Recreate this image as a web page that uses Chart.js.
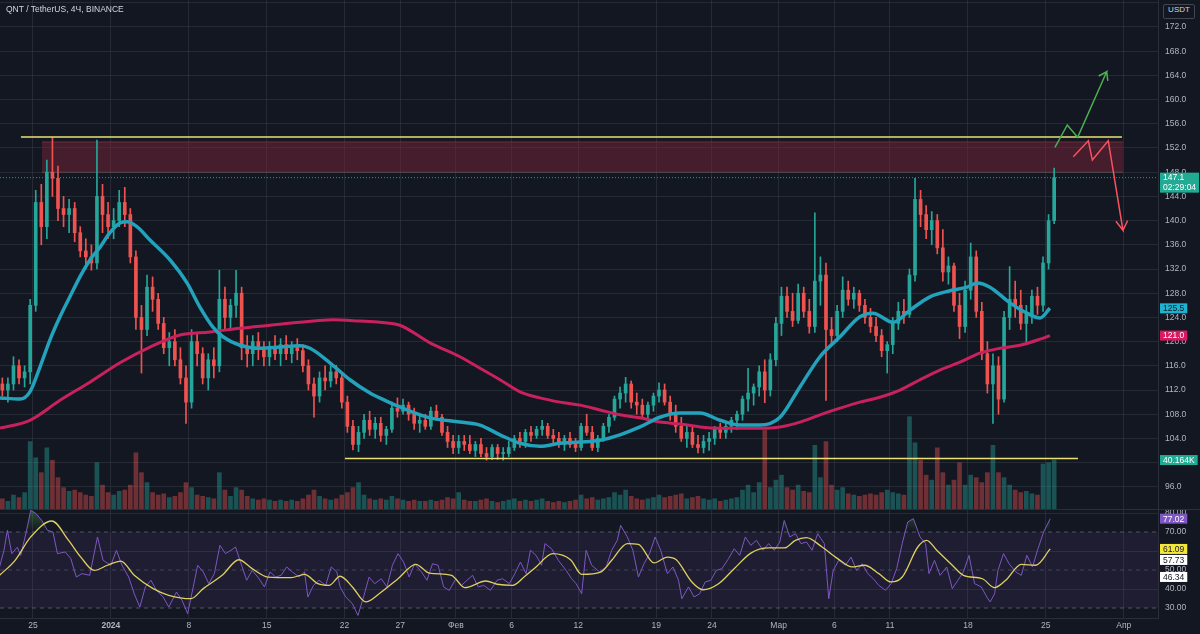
<!DOCTYPE html>
<html>
<head>
<meta charset="utf-8">
<title>QNT / TetherUS, 4Ч, BINANCE</title>
<script src="https://cdn.jsdelivr.net/npm/chart.js@4.4.1/dist/chart.umd.min.js"></script>
<style>
  html, body { margin: 0; padding: 0; background: #131722; }
  #wrap { position: relative; width: 1200px; height: 634px; overflow: hidden; background: #131722; }
  #priceCanvas { position: absolute; left: 0; top: 0; }
  #rsiCanvas { position: absolute; left: 0; top: 510px; }
  #paneSplit { position: absolute; left: 0; top: 509px; width: 1200px; height: 1px; background: #2a2e39; }
  #symbolTitle { position: absolute; left: 6px; top: 4px; color: #d1d4dc; font: 8.5px "Liberation Sans", Arial, sans-serif; }
  #unitBox { position: absolute; left: 1163px; top: 4px; width: 30px; height: 13px; line-height: 13px; border: 1px solid #434651; border-radius: 2px;
             color: #d1d4dc; background: #131722; text-align: center; font: 8px "Liberation Sans", Arial, sans-serif; }
</style>
</head>
<body>
<div id="wrap">
  <canvas id="priceCanvas" width="1200" height="510"></canvas>
  <canvas id="rsiCanvas" width="1200" height="124"></canvas>
  <div id="paneSplit"></div>
  <div id="symbolTitle">QNT / TetherUS, 4Ч, BINANCE</div>
  <div id="unitBox">USDT</div>
</div>
<script>
// x is counted in days, day 0 = 25 Dec 2023; candles resampled to 12h
const firstCandleDay = -3;
const candleStep = 0.5;

const openPrices = [
  113,112,113,116,114,115,126,143,139,148,
  147,142,141,142,138,135,134,133,144,141,
  139,140,143,141,134,124,122,129,127,123,
  119,120,117,114,110,120,118,114,117,116,
  127,124,126,128,119,118,120,119,117.5,119,
  118,119.5,118,119,118.5,116,113,111,114,113.5,
  115,114,110,106,103,105,107,105.5,106.5,104.5,
  105.5,109,108.5,109.5,108,106.5,107,106,108.5,107.5,
  105,103.5,102.5,103.5,103,102,103,101.5,101,102.5,
  101.5,101.5,102.5,104,103.5,105,104.5,105.5,106,104.5,
  104,103,104,103,102.5,106,105,102.5,104,106,
  107.5,110.5,111.5,113,110,109.5,108,109.5,111,112,
  110,108,106,104,105,103,102.5,103.5,104,105.5,
  105,106,107,108,110.5,111.5,112.5,115,112,117,
  123,127.5,125,123.5,128,125,122.5,130,131,122,
  121,125,128.5,127,128,126,124,122.5,121,118.5,
  119.5,123,125,124.5,131,143.5,141,138.5,140,135.5,
  131.5,132.5,126,122.5,128.5,134,125,118,113,116,
  110.5,124,127,126,123,124.5,127.5,126,133,140
];
const highPrices = [
  114,114,117.5,117,116,127,145,146,150,153.7,
  149,144,143.5,143,139,137,136,153.3,146,143,
  142,145,145.5,142,135,126,131,130.7,128,124,
  121.5,122,119,116,122,121.5,119,118,119,131.8,
  129,127,131.8,129,121,121,121.5,120,120,121,
  120.5,121,120,120.5,119.5,117,114,115,116,116,
  116.1,114.5,111,107,106,108,108.5,107.5,107.5,106,
  110,110.7,110.5,110,109,108,108,109.2,109.5,108,
  106,104.5,104.5,104.5,104.5,103.5,104,102.5,103,103,
  102.5,103.5,104.5,105,105.5,106,106,107,106.5,105.5,
  105,104.5,105,104,106.5,108,106,104.5,106.5,108,
  111,112.5,114.1,113.5,111.5,110.5,110,111.5,113.2,113,
  111,109.5,107.5,106,106,104.5,104.5,105,106,106.5,
  106.5,107.5,108.5,111,115.6,113,116,117,118,124,
  129,129,128,129.5,129,127,141.3,134,133,124,
  126,130.7,130,129,128.5,127,125.5,124,122,120,
  124,126.5,127,132,147,145,142.5,141.5,141,138.5,
  134,133,128,130,136.3,135,126.5,120,118,117.5,
  125,132.4,130,128.5,126,128.5,129,134,141,148.7
];
const lowPrices = [
  111,110,112,113,112.5,113,125,136,137,144,
  140,139,138,136.5,134,132,131.8,132,138,137,
  137,139,139,133,122,114.8,121,125,122,118,
  116,116,113,106.5,109,116,113,112,114,115,
  122,122,124,117,115.8,116,117,116,116,117,
  116,117,116.5,117,115,112,107.5,110,112,112.5,
  113,109,105,102.1,101.8,104,104.5,104,103.5,103,
  105,107.5,108,107,105.5,105,105.5,105.5,107,104.5,
  102.5,101.5,101.5,102,101.5,101,101,100.4,100.5,100.5,
  100.4,101,102,102.5,102.5,103.5,104,104.5,104,103,
  102.5,102,102.5,101.8,102,104.5,102,101.8,103.5,105,
  107,109,110,109,108,107.5,107,108.5,110,109.5,
  107,105,103.5,102.5,102.5,101.6,101.6,102,103,104,
  104,105,105.5,107,108.5,109.5,111,109.9,111,116,
  121,124,122.5,123,124,121.4,121.5,126,110.3,119.6,
  120,124,126,125.5,125,123,121.5,120,117.5,114.8,
  118,122,123,124,130,139,137,136,134.5,130,
  129.5,125,120.5,121.5,127,124,117,111.5,106.5,108,
  110,122,124,122,120,123,124.5,125,132,139.5
];
const closePrices = [
  112,113,116,114,115,126,143,139,148,147,
  142,141,142,138,135,134,133,144,141,139,
  140,143,141,134,124,122,129,127,123,119,
  120,117,114,110,120,118,114,117,116,127,
  124,126,128,119,118,120,119,117.5,119,118,
  119.5,118,119,118.5,116,113,111,114,113.5,115,
  114,110,106,103,105,107,105.5,106.5,104.5,105.5,
  109,108.5,109.5,108,106.5,107,106,108.5,107.5,105,
  103.5,102.5,103.5,103,102,103,101.5,101,102.5,101.5,
  101.5,102.5,104,103.5,105,104.5,105.5,106,104.5,104,
  103,104,103,102.5,106,105,102.5,104,106,107.5,
  110.5,111.5,113,110,109.5,108,109.5,111,112,110,
  108,106,104,105,103,102.5,103.5,104,105.5,105,
  106,107,108,110.5,111.5,112.5,115,112,117,123,
  127.5,125,123.5,128,125,122.5,130,131,122,121,
  125,128.5,127,128,126,124,122.5,121,118.5,119.5,
  123,125,124.5,131,143.5,141,138.5,140,135.5,131.5,
  132.5,126,122.5,128.5,134,125,118,113,116,110.5,
  124,127,126,123,124.5,127.5,126,133,140,147.1
];
// volume in thousands of QNT
const volumeK = [
  9,7,12,10,14,55,42,30,50,40,
  26,18,15,16,14,12,11,38,20,14,
  12,15,16,20,46,30,22,14,12,13,
  10,11,14,22,18,12,11,10,9,30,
  16,11,18,16,11,9,8,9,8,7,
  8,7,8,7,9,12,16,11,9,8,
  9,12,14,18,22,12,9,8,9,8,
  11,9,8,7,8,7,7,8,7,8,
  10,9,14,8,7,7,8,9,7,6,
  7,8,9,7,8,7,8,9,7,6,
  7,6,7,8,12,9,10,8,9,10,
  14,12,16,11,9,8,9,10,12,10,
  11,12,13,9,10,11,9,8,9,7,
  8,9,10,16,20,14,22,64,18,24,
  28,18,16,20,15,14,52,26,55,20,
  16,18,13,12,11,12,13,12,14,16,
  14,13,12,75,54,40,28,24,50,30,
  20,24,38,20,28,26,22,30,52,30,
  26,20,16,14,15,13,12,37,38,40.164
];

// moving averages
const maFastDays = [-2.96,-1.17,-0.27,0.63,1.53,2.43,3.32,4.22,5.12,6.02,
  6.92,7.82,8.45,9.34,10.51,12.31,13.84,15.0,16.17,17.07,
  18.6,20.4,22.19,23.99,24.89,26.68,28.48,30.28,31.63,32.97,
  35.67,38.36,40.16,41.96,43.76,45.55,47.35,49.15,50.94,52.74,
  54.54,56.33,58.13,59.93,61.73,63.52,65.32,67.12,68.91,70.71,
  72.51,74.3,75.47,77.27,78.8,80.59,82.39,83.92,84.82,85.98,
  87.78,89.31,90.48,91.37];
const maFastValues = [110.7,110.5,111.7,115.8,120.3,124.1,127.4,130.7,133.5,135.6,
  138,139.6,139.8,139,136.8,133.5,129.7,125.7,122.4,120.8,
  119.4,118.9,119.1,119.3,118.9,116.5,113.7,111.5,110.3,109.2,
  107.4,106.7,106.2,104.6,103.2,102.7,103.2,103.4,103.7,104.6,
  105.9,107.5,108.2,108.2,107,106.2,106.2,107.5,112.5,117.5,
  120.8,124.1,124.7,123.2,125.2,127.4,128.4,129,129.7,129,
  126.4,124.7,123.9,125.5];
const maSlowDays = [-2.96,-0.27,2.43,5.12,7.82,10.51,13.21,15.9,18.6,21.29,
  23.99,26.95,29.38,31.18,32.97,35.67,38.36,40.16,41.96,43.76,
  45.55,47.35,49.15,50.94,52.74,54.54,56.33,58.13,59.93,61.73,
  63.52,65.32,67.12,68.91,70.71,72.51,74.3,76.1,77.9,79.69,
  81.49,83.29,85.08,86.88,88.68,90.48,91.37];
const maSlowValues = [105.7,107,110.3,113.3,116.5,119.1,121.1,121.6,122.2,122.7,
  123.2,123.6,123.4,123.2,122.7,119.8,117.5,115.6,113.7,111.7,
  110.7,110,109.5,108.7,107.9,107.4,106.7,106.4,105.9,105.7,
  105.7,105.7,105.9,106.7,107.9,109,110,110.8,112,113.7,
  115.3,116.6,118.1,118.9,119.4,120.4,121.0];

// RSI and its moving average
const rsiDays = [
  -3.0,-2.6,-2.3,-1.9,-1.4,-1.1,-0.6,-0.2,0.3,0.8,
  1.3,1.8,2.2,2.9,3.4,3.9,4.4,5.1,5.8,6.3,
  7.0,7.5,8.0,8.6,9.1,9.6,10.1,10.6,11.1,11.7,
  12.2,12.9,13.4,13.9,14.4,14.8,15.3,15.8,16.3,16.8,
  17.3,17.8,18.2,18.7,19.2,19.7,20.2,20.8,21.3,21.8,
  22.3,22.8,23.3,23.9,24.4,24.7,25.2,25.7,26.3,26.8,
  27.3,27.6,28.1,28.7,29.2,29.7,30.2,30.7,31.3,31.8,
  32.3,32.8,33.3,33.8,34.3,34.9,35.4,35.9,36.4,36.9,
  37.4,38.0,38.5,39.0,39.5,40.0,40.5,41.1,41.7,42.2,
  42.8,43.3,43.8,44.3,44.7,45.2,45.7,46.0,46.6,47.2,
  47.9,48.4,48.8,49.3,49.7,50.2,50.9,51.5,52.0,52.5,
  52.8,53.4,53.9,54.4,54.9,55.4,55.9,56.4,57.0,57.5,
  58.0,58.3,58.9,59.4,59.9,60.4,60.9,61.4,61.9,62.5,
  63.0,63.5,64.0,64.5,65.0,65.6,66.1,66.6,67.1,67.5,
  68.0,68.5,69.0,69.5,70.0,70.5,71.1,71.5,71.9,72.4,
  73.0,73.5,74.0,74.5,75.0,75.5,76.0,76.6,77.1,77.6,
  78.1,78.6,79.1,79.7,80.2,80.5,81.0,81.5,82.1,82.6,
  83.1,83.6,84.1,84.6,85.2,85.7,86.0,86.4,86.7,87.2,
  87.7,88.3,88.8,89.3,89.8,90.3,90.8,91.4
];
const rsiValues = [
  51.6,60.4,70.9,58.6,62,57.7,70,81.4,79.6,76,
  70.9,70,58.6,59.5,56,46.3,48.1,47.2,67.4,55.1,
  52.5,60.4,52.5,46.3,37.5,30.5,41.1,44.6,39.3,35.8,
  30.5,38.4,34,27,41.1,52.5,49,42.8,48.1,63,
  58.6,60.4,62.1,53.3,44.6,49.8,46.3,41.1,49,46.3,
  47.2,51.6,49,46.3,49,35.8,41.9,44.6,41.9,51.6,
  49,41.1,35.8,32.3,26.1,35.8,46.3,42.8,45.4,41.1,
  52.5,58.6,54.2,46.3,53.3,49,44.6,53.3,52.5,41.1,
  39.3,45.4,41.9,44.6,47.2,41.1,41.9,39.3,44.6,45.4,
  42.8,48.1,54.2,48.1,60.4,57.7,52.5,63.9,61.2,55.1,
  49.8,45.4,42.8,37.5,60.4,52.5,49,51.6,60.4,65.6,
  73.5,67.4,60.4,46.3,53.3,58.6,67.4,60.4,48.1,51.6,
  44.6,34.9,41.1,35.8,37.5,43.7,44.6,49.8,50.7,56,
  61.2,57.7,67.4,63,65.6,60.4,63.9,60.4,64.7,76.1,
  67.4,69.1,63.9,64.7,60.4,69.1,63.9,34.9,49.8,55.1,
  52.5,56.8,49.8,53.3,48.1,45.4,41.9,39.3,42.8,50.7,
  63.9,75.3,77,67.4,63.9,48.1,55.1,47.2,51.6,40.2,
  44.6,49,57.7,42.8,41.1,35.8,33.2,37.5,49.8,58.6,
  53.3,49,47.2,57.7,51.6,61.2,70,77.02
];
const rsiMaDays = [
  -3.0,-1.6,-0.2,1.7,3.2,4.3,5.5,6.7,7.9,9.1,
  10.8,12.2,14.2,15.3,17.0,18.5,19.7,21.1,23.2,24.4,
  25.6,26.6,27.6,28.7,29.9,31.1,32.8,34.4,35.6,37.6,
  38.8,40.7,41.7,43.1,44.2,45.2,46.7,48.3,49.3,51.0,
  52.0,53.4,54.4,55.8,57.0,57.8,59.2,60.2,61.6,63.0,
  64.5,66.1,67.5,68.5,69.5,70.9,72.3,73.6,74.7,76.0,
  77.1,78.1,79.5,80.3,81.2,82.6,83.6,85.3,86.4,87.4,
  88.8,90.1,91.4
];
const rsiMaValues = [
  47.2,55.1,67.4,75.8,65.6,56.8,49.8,52.5,54.7,47.2,
  40.2,36.7,34.9,40.2,47.2,55.4,50.7,46.3,46,47.7,
  42.8,41.9,46.7,41.1,33.2,37.5,45.4,53,48.4,47.2,
  40.7,44.2,42.5,41.9,46.7,51.6,58.6,55.4,47.7,48.9,
  55.1,63.9,63.5,53.7,56.8,55.4,43.7,39.6,42.8,50.7,
  58.9,61.6,61.6,65.6,67,62.1,56,51.6,52.5,48.1,
  43.7,46.3,62.1,65.6,60.4,52.5,47.2,45.4,40.7,44.6,
  53,52.5,61.09
];

// axis ticks
const tickDays = [0,7,14,21,28,33,38,43,49,56,61,67,72,77,84,91,98];
const tickLabels = ['25','2024','8','15','22','27','Фев','6','12','19','24','Мар','6','11','18','25','Апр'];
const priceTicks = [96,100,104,108,112,116,120,124,128,132,136,140,144,148,152,156,160,164,168,172,176];
const rsiTicks = [30,40,50,60,70,80];

// hand drawings on the chart (days / prices)
const resistanceDays = [-1.08, 97.84];
const resistancePrice = 153.8;
const supportDays = [28.03, 93.89];
const supportPrice = 100.7;
const zoneDays = [0.81, 97.93];
const zoneTopPrice = 153.0;
const zoneBottomPrice = 148.0;
const bullPathDays = [91.82, 92.93, 93.86, 96.47, 95.75, 96.47, 96.57];
const bullPathPrices = [152.1, 155.8, 153.77, 164.6, 163.9, 164.6, 163.1];
const bearPathDays = [93.47, 94.82, 95.18, 96.61, 97.93, 97.3, 97.93, 98.35];
const bearPathPrices = [150.56, 153.2, 150.0, 153.2, 138.4, 139.9, 138.4, 140.0];

// right axis tags
const lastPrice = 147.1;
const barCountdown = '02:29:04';
const maFastLast = 125.5;
const maSlowLast = 121.0;
const lastVolumeK = 40.164;
const rsiTagValues = [77.02, 61.09, 57.73, 46.34];

// ---------------------------------------------------------------
const xMin = -2.96, xMax = 101.08;
const gridColor = 'rgba(54,58,69,0.55)';
const upColor = '#26a69a', downColor = '#ef5350';

Chart.defaults.font.family = '"Liberation Sans", Arial, sans-serif';
Chart.defaults.font.size = 8.5;
Chart.defaults.color = '#b2b5be';

const toPoints = (xs, ys) => xs.map((x, i) => ({x: x, y: ys[i]}));
const flatLine = (xs, y) => xs.map(x => ({x: x, y: y}));

const candleDays = openPrices.map((_, i) => firstCandleDay + candleStep * i + candleStep / 2);
const isUp = closePrices.map((c, i) => c >= openPrices[i]);
const candleColors = isUp.map(u => u ? upColor : downColor);

// no padding from tick labels, so panes line up to the pixel
const noPad = s => { s.paddingTop = 0; s.paddingBottom = 0; s.paddingLeft = 0; s.paddingRight = 0; };

// coloured value tags on the price axis
const axisTags = {
    id: 'axisTags',
    afterDraw(chart, args, opts) {
        const ctx = chart.ctx;
        const area = chart.chartArea;
        const rows = opts.tags.map(t => Object.assign({}, t, {y: chart.scales[t.axis].getPixelForValue(t.value)}))
            .sort((a, b) => a.y - b.y);
        ctx.save();
        ctx.font = '8.5px "Liberation Sans", Arial, sans-serif';
        ctx.textBaseline = 'middle';
        ctx.textAlign = 'left';
        let lastBottom = -1e9;
        const lineH = 10;
        rows.forEach(t => {
            const lines = t.sub ? [t.text, t.sub] : [t.text];
            const w = Math.max(...lines.map(l => ctx.measureText(l).width)) + 6;
            const top = Math.max(t.y - lineH / 2, lastBottom + 1);
            ctx.fillStyle = t.bg;
            ctx.fillRect(area.right + 2, top, w, lineH * lines.length);
            ctx.fillStyle = t.fg;
            lines.forEach((l, k) => ctx.fillText(l, area.right + 5, top + lineH / 2 + lineH * k + 0.5));
            lastBottom = top + lineH * lines.length;
        });
        ctx.restore();
    }
};

// overbought fill fades in from 70 upwards, like the TradingView gradient
const overboughtFill = c => {
    const chart = c.chart;
    const sc = chart.scales && chart.scales.y;
    if (!chart.chartArea || !sc) return false;
    const g = chart.ctx.createLinearGradient(0, sc.getPixelForValue(70), 0, sc.getPixelForValue(100));
    g.addColorStop(0, 'rgba(76,175,80,0)');
    g.addColorStop(1, 'rgba(76,175,80,1)');
    return { target: { value: 70 }, above: g, below: 'rgba(0,0,0,0)' };
};

// ---------------- price pane ----------------
new Chart(document.getElementById('priceCanvas'), {
    type: 'bar',
    data: {
        datasets: [
            { type: 'line', label: 'bull', data: toPoints(bullPathDays, bullPathPrices), borderColor: '#4caf50',
              borderWidth: 1.5, pointRadius: 0, tension: 0, order: 0 },
            { type: 'line', label: 'bear', data: toPoints(bearPathDays, bearPathPrices), borderColor: '#f7525f',
              borderWidth: 1.5, pointRadius: 0, tension: 0, order: 0 },
            { type: 'line', label: 'last', data: flatLine([xMin, xMax], lastPrice), borderColor: 'rgba(38,166,154,0.9)',
              borderWidth: 1, borderDash: [1, 2], pointRadius: 0, order: 1 },
            { type: 'line', label: 'MA fast', data: toPoints(maFastDays, maFastValues), borderColor: '#22a2bb',
              borderWidth: 3.5, pointRadius: 0, cubicInterpolationMode: 'monotone', order: 2 },
            { type: 'line', label: 'MA slow', data: toPoints(maSlowDays, maSlowValues), borderColor: '#c8215e',
              borderWidth: 3, pointRadius: 0, cubicInterpolationMode: 'monotone', order: 2 },
            { type: 'line', label: 'resistance', data: flatLine(resistanceDays, resistancePrice), borderColor: '#ece174',
              borderWidth: 1.5, pointRadius: 0, order: 3 },
            { type: 'line', label: 'support', data: flatLine(supportDays, supportPrice), borderColor: '#ece174',
              borderWidth: 1.5, pointRadius: 0, order: 3 },
            { type: 'bar', label: 'bodies', data: candleDays.map((x, i) => ({x: x, y: [openPrices[i], closePrices[i]]})),
              backgroundColor: candleColors, barThickness: 3, minBarLength: 1, grouped: false, order: 4 },
            { type: 'bar', label: 'wicks', data: candleDays.map((x, i) => ({x: x, y: [lowPrices[i], highPrices[i]]})),
              backgroundColor: candleColors, barThickness: 1, grouped: false, order: 5 },
            { type: 'line', label: 'zone', data: flatLine(zoneDays, zoneTopPrice), borderColor: 'rgba(150,60,80,0.6)',
              borderWidth: 1, pointRadius: 0, fill: {target: {value: zoneBottomPrice}, above: 'rgba(120,35,55,0.5)', below: 'rgba(120,35,55,0.5)'}, order: 6 },
            { type: 'line', label: 'zone low', data: flatLine(zoneDays, zoneBottomPrice), borderColor: 'rgba(170,170,150,0.35)',
              borderWidth: 1, pointRadius: 0, order: 6 },
            { type: 'bar', label: 'volume', yAxisID: 'vol', data: candleDays.map((x, i) => ({x: x, y: volumeK[i]})),
              backgroundColor: isUp.map(u => u ? 'rgba(38,166,154,0.42)' : 'rgba(239,83,80,0.42)'),
              barThickness: 4, grouped: false, order: 7 }
        ]
    },
    options: {
        responsive: false,
        animation: false,
        events: [],
        layout: { padding: 0, autoPadding: false },
        plugins: {
            legend: { display: false },
            tooltip: { enabled: false },
            axisTags: { tags: [
                { axis: 'y', value: lastPrice, text: lastPrice.toFixed(1), sub: barCountdown, bg: '#22ab94', fg: '#ffffff' },
                { axis: 'y', value: maFastLast, text: maFastLast.toFixed(1), bg: '#1fb2cf', fg: '#0c1a2a' },
                { axis: 'y', value: maSlowLast, text: maSlowLast.toFixed(1), bg: '#d81b60', fg: '#ffffff' },
                { axis: 'vol', value: lastVolumeK, text: lastVolumeK.toFixed(3) + 'K', bg: '#22ab94', fg: '#ffffff' }
            ] }
        },
        scales: {
            x: {
                type: 'linear', min: xMin, max: xMax, offset: false,
                afterBuildTicks: s => { s.ticks = tickDays.map(v => ({value: v})); },
                ticks: { display: false },
                grid: { color: gridColor, drawTicks: false, offset: false },
                border: { display: false },
                afterFit: s => { s.height = 0; noPad(s); }
            },
            y: {
                position: 'right', min: 92.17, max: 176.46, beginAtZero: false,
                afterBuildTicks: s => { s.ticks = priceTicks.map(v => ({value: v})); },
                // the 176 line sits under the USDT box, so it gets no label
                ticks: { padding: 7, color: '#b2b5be', callback: v => v > 174 ? '' : v.toFixed(1) },
                grid: { color: gridColor, drawTicks: false },
                border: { display: true, color: '#2a2e39' },
                afterFit: s => { s.width = 42; noPad(s); }
            },
            vol: { display: false, min: 0, max: 410 }
        }
    },
    plugins: [axisTags]
});

// ---------------- RSI pane ----------------
new Chart(document.getElementById('rsiCanvas'), {
    type: 'line',
    data: {
        datasets: [
            { label: 'RSI', data: toPoints(rsiDays, rsiValues), borderColor: '#7e57c2', borderWidth: 1, pointRadius: 0,
              fill: overboughtFill, order: 1 },
            { label: 'RSI MA', data: toPoints(rsiMaDays, rsiMaValues), borderColor: '#e0cf62', borderWidth: 1.3,
              pointRadius: 0, cubicInterpolationMode: 'monotone', order: 0 },
            { label: 'upper', data: flatLine([xMin, xMax], 70), borderColor: 'rgba(120,123,134,0.6)', borderWidth: 1,
              borderDash: [4, 4], pointRadius: 0, fill: {target: {value: 30}, above: 'rgba(126,87,194,0.1)', below: 'rgba(126,87,194,0.1)'}, order: 3 },
            { label: 'middle', data: flatLine([xMin, xMax], 50), borderColor: 'rgba(120,123,134,0.45)', borderWidth: 1,
              borderDash: [4, 4], pointRadius: 0, order: 3 },
            { label: 'lower', data: flatLine([xMin, xMax], 30), borderColor: 'rgba(120,123,134,0.6)', borderWidth: 1,
              borderDash: [4, 4], pointRadius: 0, order: 3 }
        ]
    },
    options: {
        responsive: false,
        animation: false,
        events: [],
        layout: { padding: 0, autoPadding: false },
        plugins: {
            legend: { display: false },
            tooltip: { enabled: false },
            axisTags: { tags: [
                { axis: 'y', value: rsiTagValues[0], text: rsiTagValues[0].toFixed(2), bg: '#7e57c2', fg: '#ffffff' },
                { axis: 'y', value: rsiTagValues[1], text: rsiTagValues[1].toFixed(2), bg: '#f5e63b', fg: '#131722' },
                { axis: 'y', value: rsiTagValues[2], text: rsiTagValues[2].toFixed(2), bg: '#ffffff', fg: '#131722' },
                { axis: 'y', value: rsiTagValues[3], text: rsiTagValues[3].toFixed(2), bg: '#ffffff', fg: '#131722' }
            ] }
        },
        scales: {
            x: {
                type: 'linear', min: xMin, max: xMax, offset: false,
                afterBuildTicks: s => { s.ticks = tickDays.map(v => ({value: v})); },
                ticks: {
                    autoSkip: false, maxRotation: 0, padding: 3, color: '#b2b5be',
                    font: c => ({ size: 8.5, weight: tickLabels[c.index] === '2024' ? 'bold' : 'normal' }),
                    callback: (v, i) => tickLabels[i]
                },
                grid: { color: gridColor, drawTicks: false },
                border: { display: true, color: '#2a2e39' },
                afterFit: s => { s.height = 16; noPad(s); }
            },
            y: {
                position: 'right', min: 24.74, max: 81.58,
                afterBuildTicks: s => { s.ticks = rsiTicks.map(v => ({value: v})); },
                ticks: { padding: 7, color: '#b2b5be', callback: v => v.toFixed(2) },
                grid: { color: c => (c.tick && [30, 50, 70].includes(c.tick.value)) ? 'rgba(0,0,0,0)' : gridColor, drawTicks: false },
                border: { display: true, color: '#2a2e39' },
                afterFit: s => { s.width = 42; noPad(s); }
            }
        }
    },
    plugins: [axisTags]
});
</script>
</body>
</html>
